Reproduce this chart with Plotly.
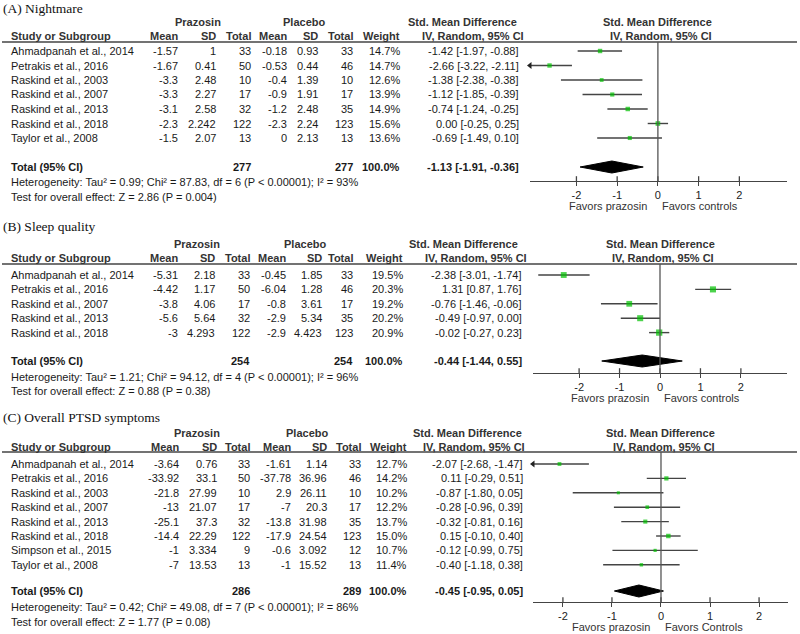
import plotly.graph_objects as go

W, H = 800, 634
SANS = "Liberation Sans, Arial, sans-serif"
SERIF = "Liberation Serif, Times New Roman, serif"

# ---------------- Panel A: Nightmare ----------------
A_title = "(A) Nightmare"
A_study = ["Ahmadpanah et al., 2014", "Petrakis et al., 2016", "Raskind et al., 2003",
           "Raskind et al., 2007", "Raskind et al., 2013", "Raskind et al., 2018", "Taylor et al., 2008"]
A_pz_mean = [-1.57, -1.67, -3.3, -3.3, -3.1, -2.3, -1.5]
A_pz_sd = [1, 0.41, 2.48, 2.27, 2.58, 2.242, 2.07]
A_pz_n = [33, 50, 10, 17, 32, 122, 13]
A_pl_mean = [-0.18, -0.53, -0.4, -0.9, -1.2, -2.3, 0]
A_pl_sd = [0.93, 0.44, 1.39, 1.91, 2.48, 2.24, 2.13]
A_pl_n = [33, 46, 10, 17, 35, 123, 13]
A_weight = [14.7, 14.7, 12.6, 13.9, 14.9, 15.6, 13.6]
A_smd = [-1.42, -2.66, -1.38, -1.12, -0.74, 0.00, -0.69]
A_lo = [-1.97, -3.22, -2.38, -1.85, -1.24, -0.25, -1.49]
A_hi = [-0.88, -2.11, -0.38, -0.39, -0.25, 0.25, 0.10]
A_total = [277, 277, -1.13, -1.91, -0.36]
A_het = "Heterogeneity: Tau² = 0.99; Chi² = 87.83, df = 6 (P < 0.00001); I² = 93%"
A_test = "Test for overall effect: Z = 2.86 (P = 0.004)"
A_favors = ["Favors prazosin", "Favors controls"]

# ---------------- Panel B: Sleep quality ----------------
B_title = "(B) Sleep quality"
B_study = ["Ahmadpanah et al., 2014", "Petrakis et al., 2016", "Raskind et al., 2007",
           "Raskind et al., 2013", "Raskind et al., 2018"]
B_pz_mean = [-5.31, -4.42, -3.8, -5.6, -3]
B_pz_sd = [2.18, 1.17, 4.06, 5.64, 4.293]
B_pz_n = [33, 50, 17, 32, 122]
B_pl_mean = [-0.45, -6.04, -0.8, -2.9, -2.9]
B_pl_sd = [1.85, 1.28, 3.61, 5.34, 4.423]
B_pl_n = [33, 46, 17, 35, 123]
B_weight = [19.5, 20.3, 19.2, 20.2, 20.9]
B_smd = [-2.38, 1.31, -0.76, -0.49, -0.02]
B_lo = [-3.01, 0.87, -1.46, -0.97, -0.27]
B_hi = [-1.74, 1.76, -0.06, 0.00, 0.23]
B_total = [254, 254, -0.44, -1.44, 0.55]
B_het = "Heterogeneity: Tau² = 1.21; Chi² = 94.12, df = 4 (P < 0.00001); I² = 96%"
B_test = "Test for overall effect: Z = 0.88 (P = 0.38)"
B_favors = ["Favors prazosin", "Favors controls"]

# ---------------- Panel C: Overall PTSD symptoms ----------------
C_title = "(C) Overall PTSD symptoms"
C_study = ["Ahmadpanah et al., 2014", "Petrakis et al., 2016", "Raskind et al., 2003",
           "Raskind et al., 2007", "Raskind et al., 2013", "Raskind et al., 2018",
           "Simpson et al., 2015", "Taylor et al., 2008"]
C_pz_mean = [-3.64, -33.92, -21.8, -13, -25.1, -14.4, -1, -7]
C_pz_sd = [0.76, 33.1, 27.99, 21.07, 37.3, 22.29, 3.334, 13.53]
C_pz_n = [33, 50, 10, 17, 32, 122, 9, 13]
C_pl_mean = [-1.61, -37.78, 2.9, -7, -13.8, -17.9, -0.6, -1]
C_pl_sd = [1.14, 36.96, 26.11, 20.3, 31.98, 24.54, 3.092, 15.52]
C_pl_n = [33, 46, 10, 17, 35, 123, 12, 13]
C_weight = [12.7, 14.2, 10.2, 12.2, 13.7, 15.0, 10.7, 11.4]
C_smd = [-2.07, 0.11, -0.87, -0.28, -0.32, 0.15, -0.12, -0.40]
C_lo = [-2.68, -0.29, -1.80, -0.96, -0.81, -0.10, -0.99, -1.18]
C_hi = [-1.47, 0.51, 0.05, 0.39, 0.16, 0.40, 0.75, 0.38]
C_total = [286, 289, -0.45, -0.95, 0.05]
C_het = "Heterogeneity: Tau² = 0.42; Chi² = 49.08, df = 7 (P < 0.00001); I² = 86%"
C_test = "Test for overall effect: Z = 1.77 (P = 0.08)"
C_favors = ["Favors prazosin", "Favors Controls"]

tick_vals = [-2, -1, 0, 1, 2]

panels = [
    dict(title=A_title, study=A_study, pzm=A_pz_mean, pzs=A_pz_sd, pzn=A_pz_n,
         plm=A_pl_mean, pls=A_pl_sd, pln=A_pl_n, w=A_weight, smd=A_smd, lo=A_lo, hi=A_hi,
         total=A_total, het=A_het, test=A_test, favors=A_favors,
         ax="x", axkey="xaxis", xdom=(530, 787), xr=(-3.14, 3.17),
         ty=8, h1=22, h2=36, line=42, row0=51, step=14.5, toty=167, hety=182, testy=197,
         axy=181, favy=206,
         cols=(179, 217, 252, 288, 319, 354, 401, 520), pzc=198, plc=304, smdh=462, ivh=473),
    dict(title=B_title, study=B_study, pzm=B_pz_mean, pzs=B_pz_sd, pzn=B_pz_n,
         plm=B_pl_mean, pls=B_pl_sd, pln=B_pl_n, w=B_weight, smd=B_smd, lo=B_lo, hi=B_hi,
         total=B_total, het=B_het, test=B_test, favors=B_favors,
         ax="x2", axkey="xaxis2", xdom=(533, 787), xr=(-3.14, 3.14),
         ty=226, h1=244, h2=258, line=264, row0=275, step=14.4, toty=361, hety=377, testy=391,
         axy=373, favy=398,
         cols=(179, 216, 251, 287, 323, 354, 404, 523), pzc=197, plc=305, smdh=464, ivh=476),
    dict(title=C_title, study=C_study, pzm=C_pz_mean, pzs=C_pz_sd, pzn=C_pz_n,
         plm=C_pl_mean, pls=C_pl_sd, pln=C_pl_n, w=C_weight, smd=C_smd, lo=C_lo, hi=C_hi,
         total=C_total, het=C_het, test=C_test, favors=C_favors,
         ax="x3", axkey="xaxis3", xdom=(533, 788), xr=(-2.61, 2.59),
         ty=417, h1=433, h2=447, line=452, row0=464, step=14.4, toty=591, hety=607, testy=622,
         axy=602, favy=627,
         cols=(180, 218, 251, 292, 328, 362, 408, 524), pzc=197, plc=307, smdh=467, ivh=474),
]

fig = go.Figure()
annotations = []
shapes = []
TXT = "#1a1a1a"
HDR = "#333333"


def txt(x, y, s, anchor="left", bold=False, size=11, family=SANS, color=TXT):
    annotations.append(dict(x=x / W, y=1 - y / H, xref="paper", yref="paper",
                            text=f"<b>{s}</b>" if bold else s, showarrow=False,
                            xanchor=anchor, yanchor="middle", borderpad=0,
                            font=dict(family=family, size=size, color=color)))


layout_axes = {}
for p in panels:
    n = len(p["study"])
    rows = [p["row0"] + i * p["step"] for i in range(n)]
    c = p["cols"]
    x0px, x1px = p["xdom"]
    xmin, xmax = p["xr"]
    zero_px = x0px + (0 - xmin) / (xmax - xmin) * (x1px - x0px)

    # titles & headers
    txt(2, p["ty"], p["title"], family=SERIF, size=13.5, color="#111")
    txt(p["pzc"], p["h1"], "Prazosin", anchor="center", bold=True, color=HDR)
    txt(p["plc"], p["h1"], "Placebo", anchor="center", bold=True, color=HDR)
    txt(p["smdh"], p["h1"], "Std. Mean Difference", anchor="center", bold=True, color=HDR)
    txt(zero_px, p["h1"], "Std. Mean Difference", anchor="center", bold=True, color=HDR)
    txt(10, p["h2"], "Study or Subgroup", bold=True, color=HDR)
    for xpos, lab in zip(c[:7], ["Mean", "SD", "Total", "Mean", "SD", "Total", "Weight"]):
        txt(xpos, p["h2"], lab, anchor="right", bold=True, color=HDR)
    txt(p["ivh"], p["h2"], "IV, Random, 95% CI", anchor="center", bold=True, color=HDR)
    txt(zero_px + 3, p["h2"], "IV, Random, 95% CI", anchor="center", bold=True, color=HDR)
    shapes.append(dict(type="line", xref="paper", yref="paper", x0=2 / W, x1=797 / W,
                       y0=1 - p["line"] / H, y1=1 - p["line"] / H,
                       line=dict(color="#444", width=1.5)))

    # study rows
    for i in range(n):
        y = rows[i]
        txt(10, y, p["study"][i])
        vals = [f"{p['pzm'][i]:g}", f"{p['pzs'][i]:g}", f"{p['pzn'][i]}",
                f"{p['plm'][i]:g}", f"{p['pls'][i]:g}", f"{p['pln'][i]}",
                f"{p['w'][i]:.1f}%",
                f"{p['smd'][i]:.2f} [{p['lo'][i]:.2f}, {p['hi'][i]:.2f}]"]
        for xpos, v in zip(c, vals):
            txt(xpos, y, v, anchor="right")

    # total rows
    tot = p["total"]
    txt(10, p["toty"], "Total (95% CI)", bold=True)
    txt(c[2], p["toty"], str(tot[0]), anchor="right", bold=True)
    txt(c[5], p["toty"], str(tot[1]), anchor="right", bold=True)
    txt(c[6], p["toty"], "100.0%", anchor="right", bold=True)
    txt(c[7], p["toty"], f"{tot[2]:.2f} [{tot[3]:.2f}, {tot[4]:.2f}]", anchor="right", bold=True)
    txt(10, p["hety"], p["het"])
    txt(10, p["testy"], p["test"])
    txt(zero_px - 10, p["favy"], p["favors"][0], anchor="right", color="#333")
    txt(zero_px + 3, p["favy"], p["favors"][1], anchor="left", color="#333")

    # zero line
    shapes.append(dict(type="line", xref=p["ax"], yref="y", x0=0, x1=0,
                       y0=p["line"], y1=p["axy"], line=dict(color="#555", width=1.3)))

    # CI lines (clipped to axis range, arrow if truncated)
    lx, ly, ax_, ay_ = [], [], [], []
    for i in range(n):
        lo = max(p["lo"][i], xmin)
        hi = min(p["hi"][i], xmax)
        lx += [lo, hi, None]
        ly += [rows[i], rows[i], None]
        if p["lo"][i] < xmin:
            ax_.append(xmin)
            ay_.append(rows[i])
    fig.add_trace(go.Scatter(x=lx, y=ly, xaxis=p["ax"], yaxis="y", mode="lines",
                             line=dict(color="#444", width=1.4), hoverinfo="skip",
                             showlegend=False, cliponaxis=False))
    if ax_:
        fig.add_trace(go.Scatter(x=ax_, y=ay_, xaxis=p["ax"], yaxis="y", mode="markers",
                                 marker=dict(symbol="triangle-left", size=6, color="#222"),
                                 hoverinfo="skip", showlegend=False, cliponaxis=False))
    # point estimates
    fig.add_trace(go.Scatter(x=p["smd"], y=rows, xaxis=p["ax"], yaxis="y", mode="markers",
                             marker=dict(symbol="square", color="#00c000",
                                         size=[wv * 0.3 for wv in p["w"]], line=dict(width=0)),
                             hoverinfo="skip", showlegend=False))
    # pooled diamond
    yc = p["toty"]
    fig.add_trace(go.Scatter(x=[tot[3], tot[2], tot[4], tot[2], tot[3]],
                             y=[yc, yc - 6, yc, yc + 6, yc], xaxis=p["ax"], yaxis="y",
                             mode="lines", fill="toself", fillcolor="black",
                             line=dict(color="black", width=1), hoverinfo="skip",
                             showlegend=False))
    # upper half of crossing tick marks
    fig.add_trace(go.Scatter(x=tick_vals, y=[p["axy"] - 2] * len(tick_vals), xaxis=p["ax"],
                             yaxis="y", mode="markers",
                             marker=dict(symbol="line-ns", size=4, line=dict(color="#444", width=1.3)),
                             hoverinfo="skip", showlegend=False, cliponaxis=False))

    layout_axes[p["axkey"]] = dict(
        domain=[x0px / W, x1px / W], range=list(p["xr"]), anchor="free",
        position=1 - p["axy"] / H, showline=True, linecolor="#444", linewidth=1.3,
        ticks="outside", ticklen=4, tickwidth=1.3, tickcolor="#444",
        tickvals=tick_vals, ticktext=[str(t) for t in tick_vals],
        tickfont=dict(family=SANS, size=11, color="#222"),
        showgrid=False, zeroline=False, fixedrange=True)

fig.update_layout(
    width=W, height=H, margin=dict(l=0, r=0, t=0, b=0),
    paper_bgcolor="white", plot_bgcolor="rgba(0,0,0,0)", showlegend=False,
    yaxis=dict(domain=[0, 1], range=[H, 0], visible=False, showgrid=False,
               zeroline=False, fixedrange=True),
    annotations=annotations, shapes=shapes, **layout_axes)

fig.write_html("out.html", config={"displayModeBar": False},
               post_script="document.body.style.margin='0';document.body.style.overflow='hidden';")
